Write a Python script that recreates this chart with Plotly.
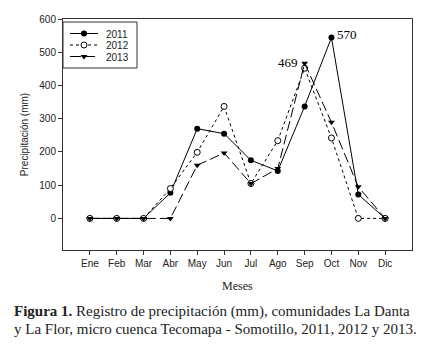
import plotly.graph_objects as go

months = ["Ene", "Feb", "Mar", "Abr", "May", "Jun", "Jul", "Ago", "Sep", "Oct", "Nov", "Dic"]
y2011 = [0, 0, 0, 77, 270, 255, 175, 143, 337, 544, 72, 0]
y2012 = [0, 0, 0, 90, 199, 337, 105, 234, 452, 242, 0, 0]
y2013 = [0, 0, 0, 0, 160, 197, 105, 150, 467, 289, 95, 0]
years = ["2011", "2012", "2013"]
yticks = [0, 100, 200, 300, 400, 500, 600]

xpos = list(range(1, 13))

styles = [
    dict(line=dict(color="black", width=1, dash="solid"),
         marker=dict(symbol="circle", size=6, color="black")),
    dict(line=dict(color="black", width=1, dash="dot"),
         marker=dict(symbol="circle", size=6, color="white", line=dict(color="black", width=1))),
    dict(line=dict(color="black", width=1, dash="10px,4px"),
         marker=dict(symbol="triangle-down", size=6, color="black")),
]

fig = go.Figure()
for name, ys, st in zip(years, [y2011, y2012, y2013], styles):
    fig.add_trace(go.Scatter(x=xpos, y=ys, name=name, mode="lines+markers",
                             showlegend=False, **st))

# compact legend drawn on an overlay axis measured in pixels
leg_rows = [33.5, 45, 56.5]
for name, st, yy in zip(years, styles, leg_rows):
    lst = dict(st["line"])
    if name == "2013":
        lst["dash"] = "11px,3px"
    fig.add_trace(go.Scatter(x=[70, 84, 98], y=[yy, yy, yy], mode="lines",
                             line=lst, xaxis="x2", yaxis="y2", showlegend=False,
                             hoverinfo="skip"))
    fig.add_trace(go.Scatter(x=[84], y=[yy], mode="markers", marker=st["marker"],
                             xaxis="x2", yaxis="y2", showlegend=False, hoverinfo="skip"))
    fig.add_annotation(xref="x2", yref="y2", x=104, y=yy, text=name, showarrow=False,
                       xanchor="left", yanchor="middle", height=10, valign="middle",
                       font=dict(family="Liberation Sans", size=10, color="#222"))
fig.add_shape(type="rect", xref="x2", yref="y2", x0=63, x1=137, y0=22, y1=68,
              line=dict(color="#333", width=1), fillcolor="rgba(0,0,0,0)")

fig.add_annotation(x=9, y=y2013[8], text="469", showarrow=False, xanchor="right",
                   xshift=-5, yshift=1, font=dict(family="Liberation Serif", size=13, color="black"))
fig.add_annotation(x=10, y=y2011[9], text="570", showarrow=False, xanchor="left",
                   xshift=4, yshift=3, font=dict(family="Liberation Serif", size=13, color="black"))

fig.add_annotation(xref="paper", yref="paper", x=0.5, y=-0.115, yanchor="top",
                   text="Meses", showarrow=False,
                   font=dict(family="Liberation Serif", size=12, color="#222"))

caption = ["<b>Figura 1.</b> Registro de precipitación (mm), comunidades La Danta",
           "y La Flor, micro cuenca Tecomapa - Somotillo, 2011, 2012 y 2013."]
plot_h = 353 - 19 - 103
for line, py in zip(caption, [311, 329]):
    fig.add_annotation(xref="paper", yref="paper", x=-0.145, y=(250 - py) / plot_h,
                       xanchor="left", yanchor="middle", text=line, showarrow=False,
                       font=dict(family="Liberation Serif", size=15, color="#222"))

fig.update_layout(
    width=430, height=353,
    margin=dict(l=63, r=18, t=19, b=103),
    paper_bgcolor="white", plot_bgcolor="white",
    font=dict(family="Liberation Sans", size=10, color="#222"),
    showlegend=False,
    xaxis=dict(range=[0, 13], tickvals=xpos, ticktext=months, showgrid=False, zeroline=False,
               ticks="outside", ticklen=4, tickcolor="#333", showline=True, linecolor="#333",
               linewidth=1, mirror=True),
    yaxis=dict(range=[-95, 600], tickvals=yticks, showgrid=False, zeroline=False,
               ticks="outside", ticklen=4, tickcolor="#333", showline=True, linecolor="#333",
               linewidth=1, mirror=True,
               title=dict(text="Precipitación (mm)", standoff=8,
                          font=dict(family="Liberation Sans", size=10, color="#222"))),
    xaxis2=dict(overlaying="x", range=[63, 412], visible=False, fixedrange=True),
    yaxis2=dict(overlaying="y", range=[250, 19], visible=False, fixedrange=True),
)

fig.write_html("out.html")
